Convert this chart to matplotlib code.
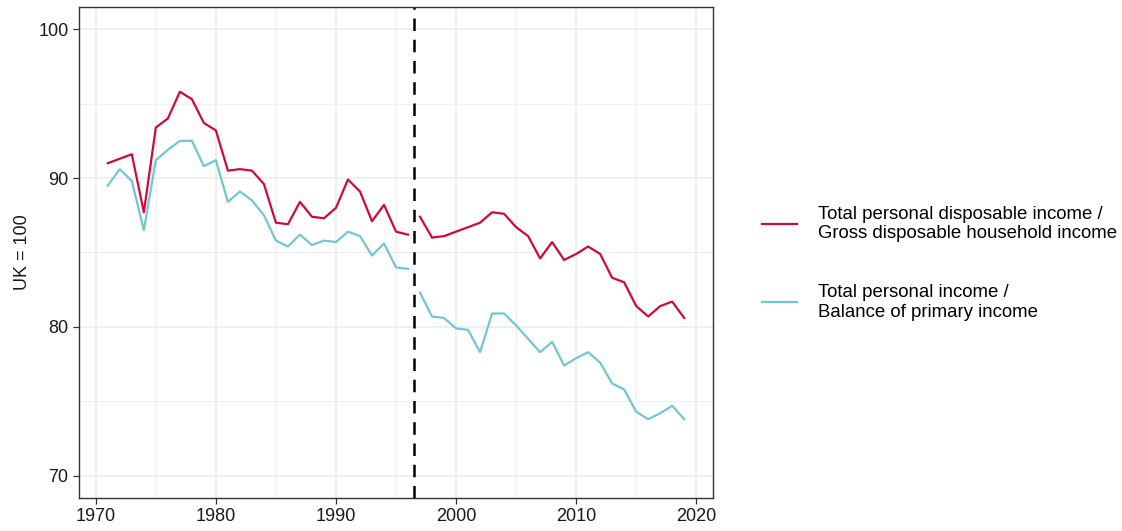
import matplotlib
matplotlib.use("Agg")
import matplotlib.pyplot as plt
import numpy as np
from matplotlib.ticker import MultipleLocator

plt.rcParams['font.family'] = ['Liberation Sans', 'DejaVu Sans']

# data (UK = 100)
years_early = list(range(1971, 1997))
years_late = list(range(1997, 2020))

tpdi_early = [91.0, 91.3, 91.6, 87.7, 93.4, 94.0, 95.8, 95.3, 93.7, 93.2,
              90.5, 90.6, 90.5, 89.6, 87.0, 86.9, 88.4, 87.4, 87.3, 88.0,
              89.9, 89.1, 87.1, 88.2, 86.4, 86.2]
tpdi_late = [87.4, 86.0, 86.1, 86.4, 86.7, 87.0, 87.7, 87.6, 86.7, 86.1,
             84.6, 85.7, 84.5, 84.9, 85.4, 84.9, 83.3, 83.0, 81.4, 80.7,
             81.4, 81.7, 80.6]

tpi_early = [89.5, 90.6, 89.8, 86.5, 91.2, 91.9, 92.5, 92.5, 90.8, 91.2,
             88.4, 89.1, 88.5, 87.5, 85.8, 85.4, 86.2, 85.5, 85.8, 85.7,
             86.4, 86.1, 84.8, 85.6, 84.0, 83.9]
tpi_late = [82.3, 80.7, 80.6, 79.9, 79.8, 78.3, 80.9, 80.9, 80.1, 79.2,
            78.3, 79.0, 77.4, 77.9, 78.3, 77.6, 76.2, 75.8, 74.3, 73.8,
            74.2, 74.7, 73.8]

labels = ["Total personal disposable income /\nGross disposable household income",
          "Total personal income /\nBalance of primary income"]
red = "#CC0A3E"
teal = "#72C6D3"
break_year = 1996.5

fig = plt.figure(figsize=(11.22, 5.31), dpi=100)
ax = fig.add_axes([0.0704, 0.062, 0.5651, 0.925])

ax.plot(years_early, tpdi_early, color=red, lw=1.6, label=labels[0])
ax.plot(years_late, tpdi_late, color=red, lw=1.6)
ax.plot(years_early, tpi_early, color=teal, lw=1.6, label=labels[1])
ax.plot(years_late, tpi_late, color=teal, lw=1.6)
ax.axvline(break_year, color="black", lw=1.8, ls=(0, (5, 3.5)))

ax.set_xlim(1968.6, 2021.4)
ax.set_ylim(68.5, 101.5)
ax.xaxis.set_major_locator(MultipleLocator(10))
ax.xaxis.set_minor_locator(MultipleLocator(5))
ax.yaxis.set_major_locator(MultipleLocator(10))
ax.yaxis.set_minor_locator(MultipleLocator(5))
ax.grid(which="major", color="#EBEBEB", lw=1.1)
ax.grid(which="minor", color="#EFEFEF", lw=0.8)
ax.set_axisbelow(True)
ax.tick_params(which="major", length=4, width=0.9, color="#333333",
               labelsize=13, labelcolor="#1a1a1a")
ax.tick_params(which="minor", length=0)
for s in ax.spines.values():
    s.set_color("#333333")
    s.set_linewidth(1.0)

ax.set_ylabel("UK = 100", fontsize=13, color="#1a1a1a", labelpad=5)

leg = ax.legend(loc="center left", bbox_to_anchor=(1.0505, 0.478), frameon=False,
                fontsize=13.4, handlelength=1.9, handletextpad=1.12, labelspacing=2.25)
for t in leg.get_texts():
    t.set_linespacing(1.19)

fig.savefig("out.png", dpi=100)
